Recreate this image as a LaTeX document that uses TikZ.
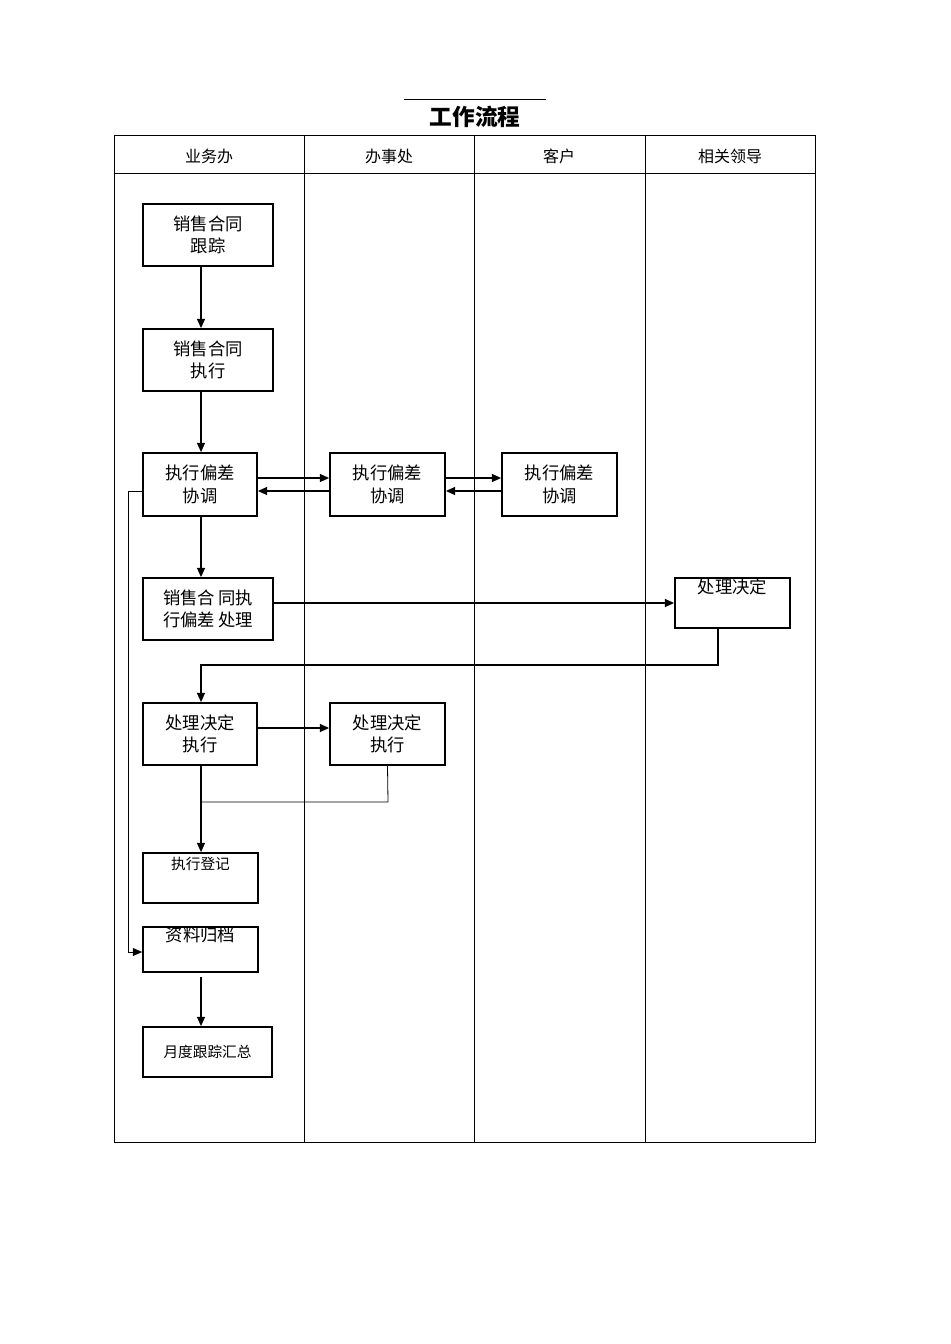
\documentclass[tikz,border=0pt]{standalone}
\usepackage{fontspec}
\setmainfont{Noto Sans CJK SC}
\usetikzlibrary{arrows.meta}
\begin{document}
\begin{tikzpicture}[x=0.75pt,y=-0.75pt,
  box/.style={draw,line width=1.3pt,align=center,inner sep=0pt,font=\fontsize{13}{17}\selectfont},
  arr/.style={line width=1.1pt,-{Triangle[length=7pt,width=6pt]}},
  thin/.style={line width=0.6pt}]
\useasboundingbox (0,0) rectangle (950,1344);
\draw[thin] (404,99) -- (546,99);
\node[font=\bfseries\fontsize{17}{20}\selectfont] (title) at (475,117) {工作流程};
\draw[thin] (114,135) rectangle (815,1142);
\draw[thin] (114,173) -- (815,173);
\foreach \x in {304,474,645} \draw[thin] (\x,135) -- (\x,1142);
\foreach \t/\x in {业务办/209,办事处/389,客户/559,相关领导/730}
  \node[font=\fontsize{12}{14}\selectfont] at (\x,156) {\t};
\def\bx#1#2#3#4#5#6{\node[box,minimum width=#4*0.75pt-#2*0.75pt,minimum height=#5*0.75pt-#3*0.75pt] (#1) at ({(#2+#4)/2},{(#3+#5)/2}) {#6};}
\bx{b1}{143}{204}{273}{266}{销售合同\\跟踪}
\bx{b2}{143}{329}{273}{391}{销售合同\\执行}
\bx{b3}{143}{453}{257}{516}{执行偏差\\协调}
\bx{b4}{330}{453}{445}{516}{执行偏差\\协调}
\bx{b5}{502}{453}{617}{516}{执行偏差\\协调}
\bx{b6}{143}{578}{273}{640}{销售合\,同执\\行偏差\,处理}
\bx{b7}{675}{578}{790}{628}{处理决定\\[0.6em]}
\bx{b8}{143}{703}{257}{765}{处理决定\\执行}
\bx{b9}{330}{703}{445}{765}{处理决定\\执行}
\bx{b10}{143}{853}{258}{903}{\fontsize{11}{14}\selectfont 执行登记\\[0.4em]}
\bx{b11}{143}{927}{258}{972}{资料归档\\[0.4em]}
\bx{b12}{143}{1027}{272}{1077}{\fontsize{11}{14}\selectfont 月度跟踪汇总}
\draw[arr] (b1.south -| 201,0) -- (b2.north -| 201,0);
\draw[arr] (b2.south -| 201,0) -- (b3.north -| 201,0);
\draw[arr] (b3.east |- 0,478) -- (b4.west |- 0,478);
\draw[arr] (b4.west |- 0,491) -- (b3.east |- 0,491);
\draw[arr] (b4.east |- 0,478) -- (b5.west |- 0,478);
\draw[arr] (b5.west |- 0,491) -- (b4.east |- 0,491);
\draw[arr] (b3.south -| 201,0) -- (b6.north -| 201,0);
\draw[arr] (b6.east |- 0,603) -- (b7.west |- 0,603);
\draw[arr] (b7.south -| 718,0) -- (718,665) -- (201,665) -- (b8.north -| 201,0);
\draw[arr] (b8.east |- 0,728) -- (b9.west |- 0,728);
\draw[arr] (b8.south -| 201,0) -- (b10.north -| 201,0);
\draw[thin] (b9.south) -- (388,802) -- (201,802);
\draw[thin,-{Triangle[length=7pt,width=6pt]}] (b3.west |- 0,491) -- (128,491) -- (128,952) -- (b11.west |- 0,952);
\draw[arr] (201,977) -- (b12.north -| 201,0);
\end{tikzpicture}
\end{document}
